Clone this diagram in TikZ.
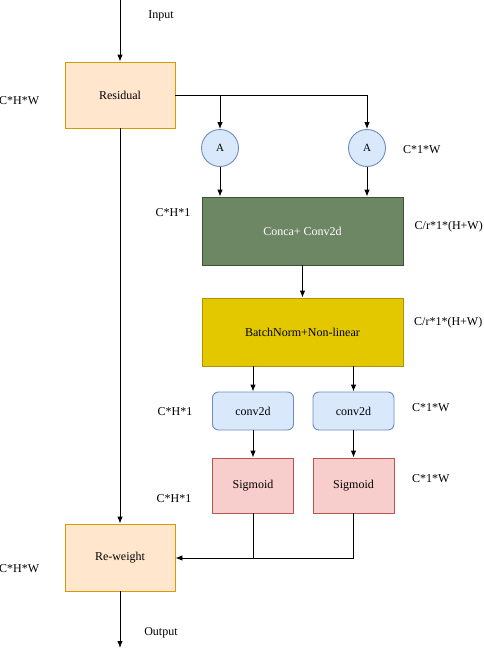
\documentclass[tikz,border=0pt]{standalone}
\usepackage{fontspec}
\setmainfont{Liberation Serif}
\usetikzlibrary{arrows.meta}
\definecolor{orfill}{HTML}{FFE6CC}\definecolor{ordraw}{HTML}{D79B00}
\definecolor{grfill}{HTML}{6D8764}\definecolor{grdraw}{HTML}{3A5431}
\definecolor{yefill}{HTML}{E3C800}\definecolor{yedraw}{HTML}{B09500}
\definecolor{blfill}{HTML}{DAE8FC}\definecolor{bldraw}{HTML}{6C8EBF}
\definecolor{refill}{HTML}{F8CECC}\definecolor{redraw}{HTML}{B85450}
\tikzset{
  box/.style={draw, line width=0.9pt, minimum width=#1, inner sep=0pt, font=\fontsize{12}{14}\selectfont},
  orbox/.style={box=110pt, minimum height=66pt, fill=orfill, draw=ordraw},
  grbox/.style={box=201pt, minimum height=68pt, fill=grfill, draw=grdraw, text=white},
  yebox/.style={box=201pt, minimum height=68pt, fill=yefill, draw=yedraw},
  blbox/.style={box=81pt, minimum height=38pt, fill=blfill, draw=bldraw, rounded corners=6pt},
  rebox/.style={box=81pt, minimum height=55pt, fill=refill, draw=redraw},
  circ/.style={circle, draw=bldraw, fill=blfill, line width=0.9pt, minimum size=37pt, inner sep=0pt, font=\fontsize{11}{13}\selectfont},
  lbl/.style={inner sep=0pt, font=\fontsize{12}{14}\selectfont},
  conn/.style={line width=0.9pt},
  arr/.style={conn, -{Latex[length=7pt,width=5.5pt]}}
}
\begin{document}
\begin{tikzpicture}[x=1pt,y=-1pt]
\useasboundingbox (0,0) rectangle (484,648);
% nodes
\node[orbox] (res) at (120,95) {Residual};
\node[circ] (a1) at (220,148) {A};
\node[circ] (a2) at (367,148) {A};
\node[grbox] (cc) at (302.5,231) {Conca+ Conv2d};
\node[yebox] (bn) at (302.5,332) {BatchNorm+Non-linear};
\node[blbox] (cv1) at (253,411) {conv2d};
\node[blbox] (cv2) at (353.5,411) {conv2d};
\node[rebox] (sg1) at (253,485.5) {Sigmoid};
\node[rebox] (sg2) at (353.5,485.5) {Sigmoid};
\node[orbox, minimum height=67pt] (rw) at (120,557.5) {Re-weight};
\coordinate (in) at (120,0);
\coordinate (out) at (120,648);
\coordinate (forkR) at (367,95);
\coordinate (joinR) at (353.5,558);
% labels
\node[lbl] (lin) at (161,16) {Input};
\node[lbl] (lout) at (161,633) {Output};
\node[lbl, anchor=west] (l1) at (-1,101) {C*H*W};
\node[lbl, anchor=west] (l2) at (-1,569) {C*H*W};
\node[lbl, anchor=west] (l3) at (403,150) {C*1*W};
\node[lbl, anchor=west] (l4) at (414.5,227) {C/r*1*(H+W)};
\node[lbl, anchor=west] (l5) at (414,323) {C/r*1*(H+W)};
\node[lbl, anchor=west] (l6) at (412,408) {C*1*W};
\node[lbl, anchor=west] (l7) at (412,479) {C*1*W};
\node[lbl] (l8) at (173,213) {C*H*1};
\node[lbl] (l9) at (175,412) {C*H*1};
\node[lbl] (l10) at (174,499) {C*H*1};
% connectors
\draw[arr] (in) -- (res.north);
\draw[conn] (res.east) -- (forkR);
\draw[arr] (res.east -| a1) -- (a1.north);
\draw[arr] (forkR) -- (a2.north);
\draw[arr] (a1.south) -- (a1.south |- cc.north);
\draw[arr] (a2.south) -- (a2.south |- cc.north);
\draw[arr] (cc.south) -- (bn.north);
\draw[arr] (bn.south -| cv1) -- (cv1.north);
\draw[arr] (bn.south -| cv2) -- (cv2.north);
\draw[arr] (cv1.south) -- (sg1.north);
\draw[arr] (cv2.south) -- (sg2.north);
\draw[arr] (res.south) -- (rw.north);
\draw[conn] (sg1.south) -- (sg1.south |- joinR);
\draw[arr] (sg2.south) -- (joinR) -- (joinR -| rw.east);
\draw[arr] (rw.south) -- (out);
\end{tikzpicture}
\end{document}
